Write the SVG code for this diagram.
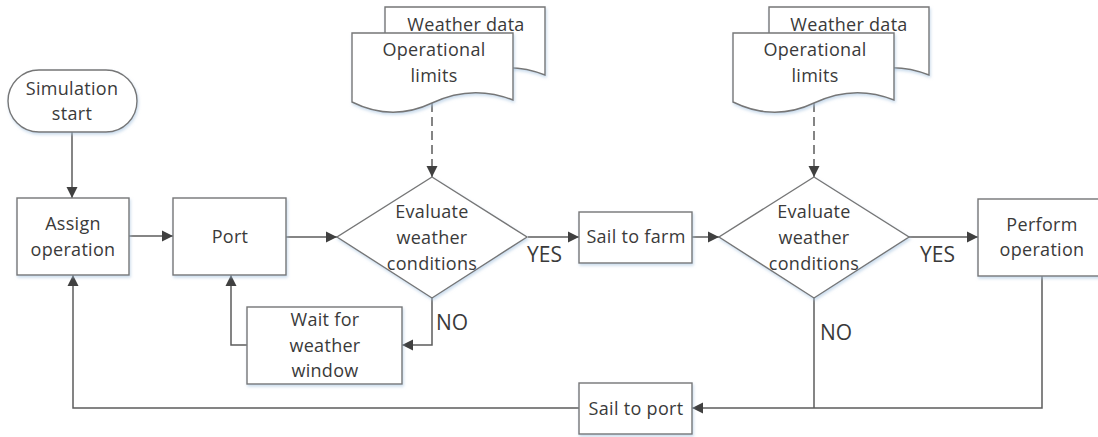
<svg xmlns="http://www.w3.org/2000/svg" width="1098" height="437" viewBox="0 0 1098 437">
<defs>
<style>
.s{fill:#fff;stroke:#767676;stroke-width:1.4;filter:url(#sh)}
.c{fill:none;stroke:#5c5c5c;stroke-width:1.5}
.d{fill:none;stroke:#5c5c5c;stroke-width:1.5;stroke-dasharray:9 5}
.t{font-family:"Open Sans","Liberation Sans",sans-serif;font-size:18px;letter-spacing:0.3px;fill:#3a3a3a;text-anchor:middle}
.l{font-family:"Open Sans","Liberation Sans",sans-serif;font-size:21px;fill:#3a3a3a}
</style>
<filter id="sh" x="-10%" y="-10%" width="130%" height="140%">
<feDropShadow dx="1" dy="2" stdDeviation="1.5" flood-color="#a8c4e0" flood-opacity="0.6"/>
</filter>
<marker id="a" markerUnits="userSpaceOnUse" markerWidth="12" markerHeight="12" refX="11" refY="6" orient="auto">
<path d="M0,0.5 L11,6 L0,11.5 Z" fill="#404040"/>
</marker>
</defs>
<rect width="1098" height="437" fill="#fff"/>
<g id="connectors">
<path class="c" d="M72,132 V198" marker-end="url(#a)"/>
<path class="c" d="M129,236 H173" marker-end="url(#a)"/>
<path class="c" d="M286,237 H337" marker-end="url(#a)"/>
<path class="c" d="M528,237 H579" marker-end="url(#a)"/>
<path class="c" d="M432,298 V345 H402" marker-end="url(#a)"/>
<path class="c" d="M247,345 H231 V275" marker-end="url(#a)"/>
<path class="c" d="M692,237 H719" marker-end="url(#a)"/>
<path class="c" d="M909,237 H978" marker-end="url(#a)"/>
<path class="c" d="M1042,276 V408 H692" marker-end="url(#a)"/>
<path class="c" d="M814,298 V408"/>
<path class="c" d="M579,408 H73 V275" marker-end="url(#a)"/>
<path class="d" d="M432,103 V177" marker-end="url(#a)"/>
<path class="d" d="M814,103 V177" marker-end="url(#a)"/>
<text class="l" x="527" y="262">YES</text>
<text class="l" x="436" y="330">NO</text>
<text class="l" x="920" y="262">YES</text>
<text class="l" x="820" y="340">NO</text>
</g>
<g id="simulation-start">
<rect class="s" x="8" y="70" width="129" height="62" rx="31"/>
<text class="t" x="72" y="95">Simulation</text>
<text class="t" x="72" y="120">start</text>
</g>
<g id="assign-operation">
<rect class="s" x="17" y="198" width="112" height="77"/>
<text class="t" x="73" y="230">Assign</text>
<text class="t" x="73" y="256">operation</text>
</g>
<g id="port">
<rect class="s" x="173" y="198" width="113" height="77"/>
<text class="t" x="230" y="243">Port</text>
</g>
<g id="docs-1">
<path class="s" d="M385,7 H545 V75 Q505,59 465,78 T385,77 Z"/>
<text class="t" x="466" y="31">Weather data</text>
<path class="s" d="M352,33 H513 V100 Q472,84 432,103 T352,102 Z"/>
<text class="t" x="434" y="56">Operational</text>
<text class="t" x="434" y="82">limits</text>
</g>
<g id="evaluate-1">
<path class="s" d="M432,177 L527,237 L432,298 L337,237 Z"/>
<text class="t" x="432" y="218">Evaluate</text>
<text class="t" x="432" y="244">weather</text>
<text class="t" x="432" y="270">conditions</text>
</g>
<g id="wait-window">
<rect class="s" x="247" y="307" width="155" height="77"/>
<text class="t" x="325" y="326">Wait for</text>
<text class="t" x="325" y="352">weather</text>
<text class="t" x="325" y="377">window</text>
</g>
<g id="sail-to-farm">
<rect class="s" x="579" y="212" width="113" height="51"/>
<text class="t" x="636" y="243">Sail to farm</text>
</g>
<g id="docs-2">
<path class="s" d="M769,7 H929 V75 Q889,59 849,78 T769,77 Z"/>
<text class="t" x="849" y="31">Weather data</text>
<path class="s" d="M733,33 H894 V100 Q854,84 814,103 T733,102 Z"/>
<text class="t" x="815" y="56">Operational</text>
<text class="t" x="815" y="82">limits</text>
</g>
<g id="evaluate-2">
<path class="s" d="M814,177 L909,237 L814,298 L719,237 Z"/>
<text class="t" x="814" y="218">Evaluate</text>
<text class="t" x="814" y="244">weather</text>
<text class="t" x="814" y="270">conditions</text>
</g>
<g id="perform-operation">
<rect class="s" x="978" y="199" width="130" height="77"/>
<text class="t" x="1042" y="231">Perform</text>
<text class="t" x="1042" y="256">operation</text>
</g>
<g id="sail-to-port">
<rect class="s" x="579" y="383" width="113" height="51"/>
<text class="t" x="636" y="415">Sail to port</text>
</g>
</svg>
